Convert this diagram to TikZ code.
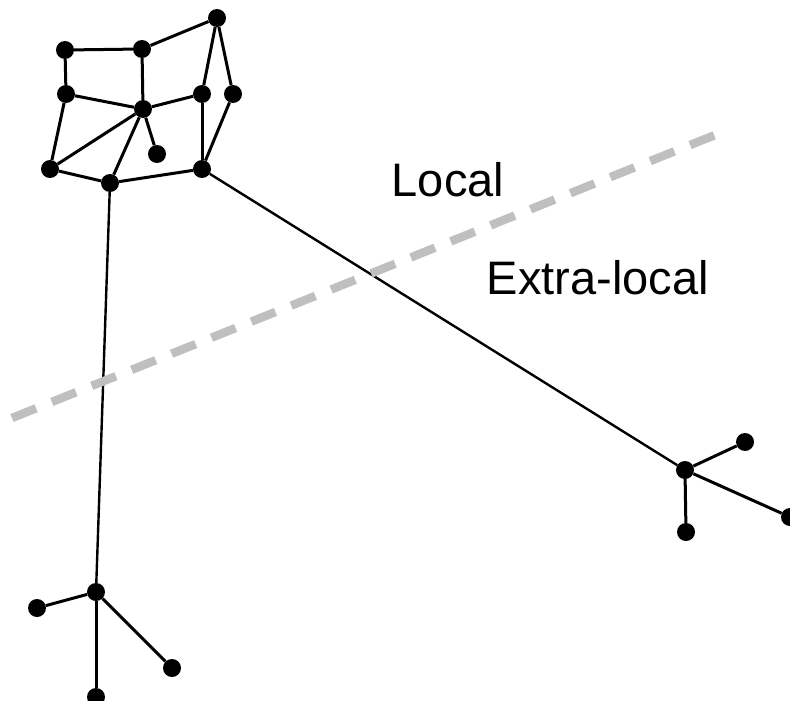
\documentclass[tikz,border=0pt]{standalone}
\usepackage{fontspec}
\setmainfont{Liberation Sans}
\usepackage{tikz}
\usetikzlibrary{positioning}

\begin{document}
\begin{tikzpicture}[x=1pt, y=-1pt,
    vtx/.style={circle, fill=black, inner sep=0pt, minimum size=18pt},
    link/.style={black, line width=3pt},
    label/.style={font=\fontsize{47}{56}\selectfont}]
  \clip (0,0) rectangle (790,701);
  % local cluster
  \node[vtx] (a) at (65,50) {};
  \node[vtx] (b) at (142,49) {};
  \node[vtx] (c) at (217,18) {};
  \node[vtx] (d) at (66,94) {};
  \node[vtx] (e) at (143,109) {};
  \node[vtx] (f) at (202,94) {};
  \node[vtx] (g) at (233,94) {};
  \node[vtx] (h) at (157,154) {};
  \node[vtx] (i) at (50,169) {};
  \node[vtx] (j) at (110,183) {};
  \node[vtx] (k) at (202,169) {};
  % far hubs
  \node[vtx] (r) at (685,470) {};
  \node[vtx] (r1) at (745,442) {};
  \node[vtx] (r2) at (686,532) {};
  \node[vtx] (r3) at (790,517) {};
  \node[vtx] (s) at (96,592) {};
  \node[vtx] (s1) at (37,608) {};
  \node[vtx] (s2) at (172,668) {};
  \node[vtx] (s3) at (96,697) {};
  \foreach \u/\v in {a/b, b/c, a/d, b/e, c/f, c/g, d/e, e/f, d/i, e/i,
                     e/j, e/h, i/j, j/k, f/k, g/k,
                     r/r1, r/r2, r/r3, s/s1, s/s2, s/s3} {
    \draw[link] (\u) -- (\v);
  }
  \draw[black, line width=2.4pt] (k) -- (r);
  \draw[black, line width=2.4pt] (j) -- (s);
  % boundary
  \coordinate (p) at (12,418);
  \coordinate (q) at (720,133);
  \draw[gray!50, line width=8.5pt, dash pattern=on 26pt off 17pt] (p) -- (q);
  \node[label] (loc) at (448,180) {Local};
  \node[label] (ext) at (598,278) {Extra-local};
\end{tikzpicture}
\end{document}
